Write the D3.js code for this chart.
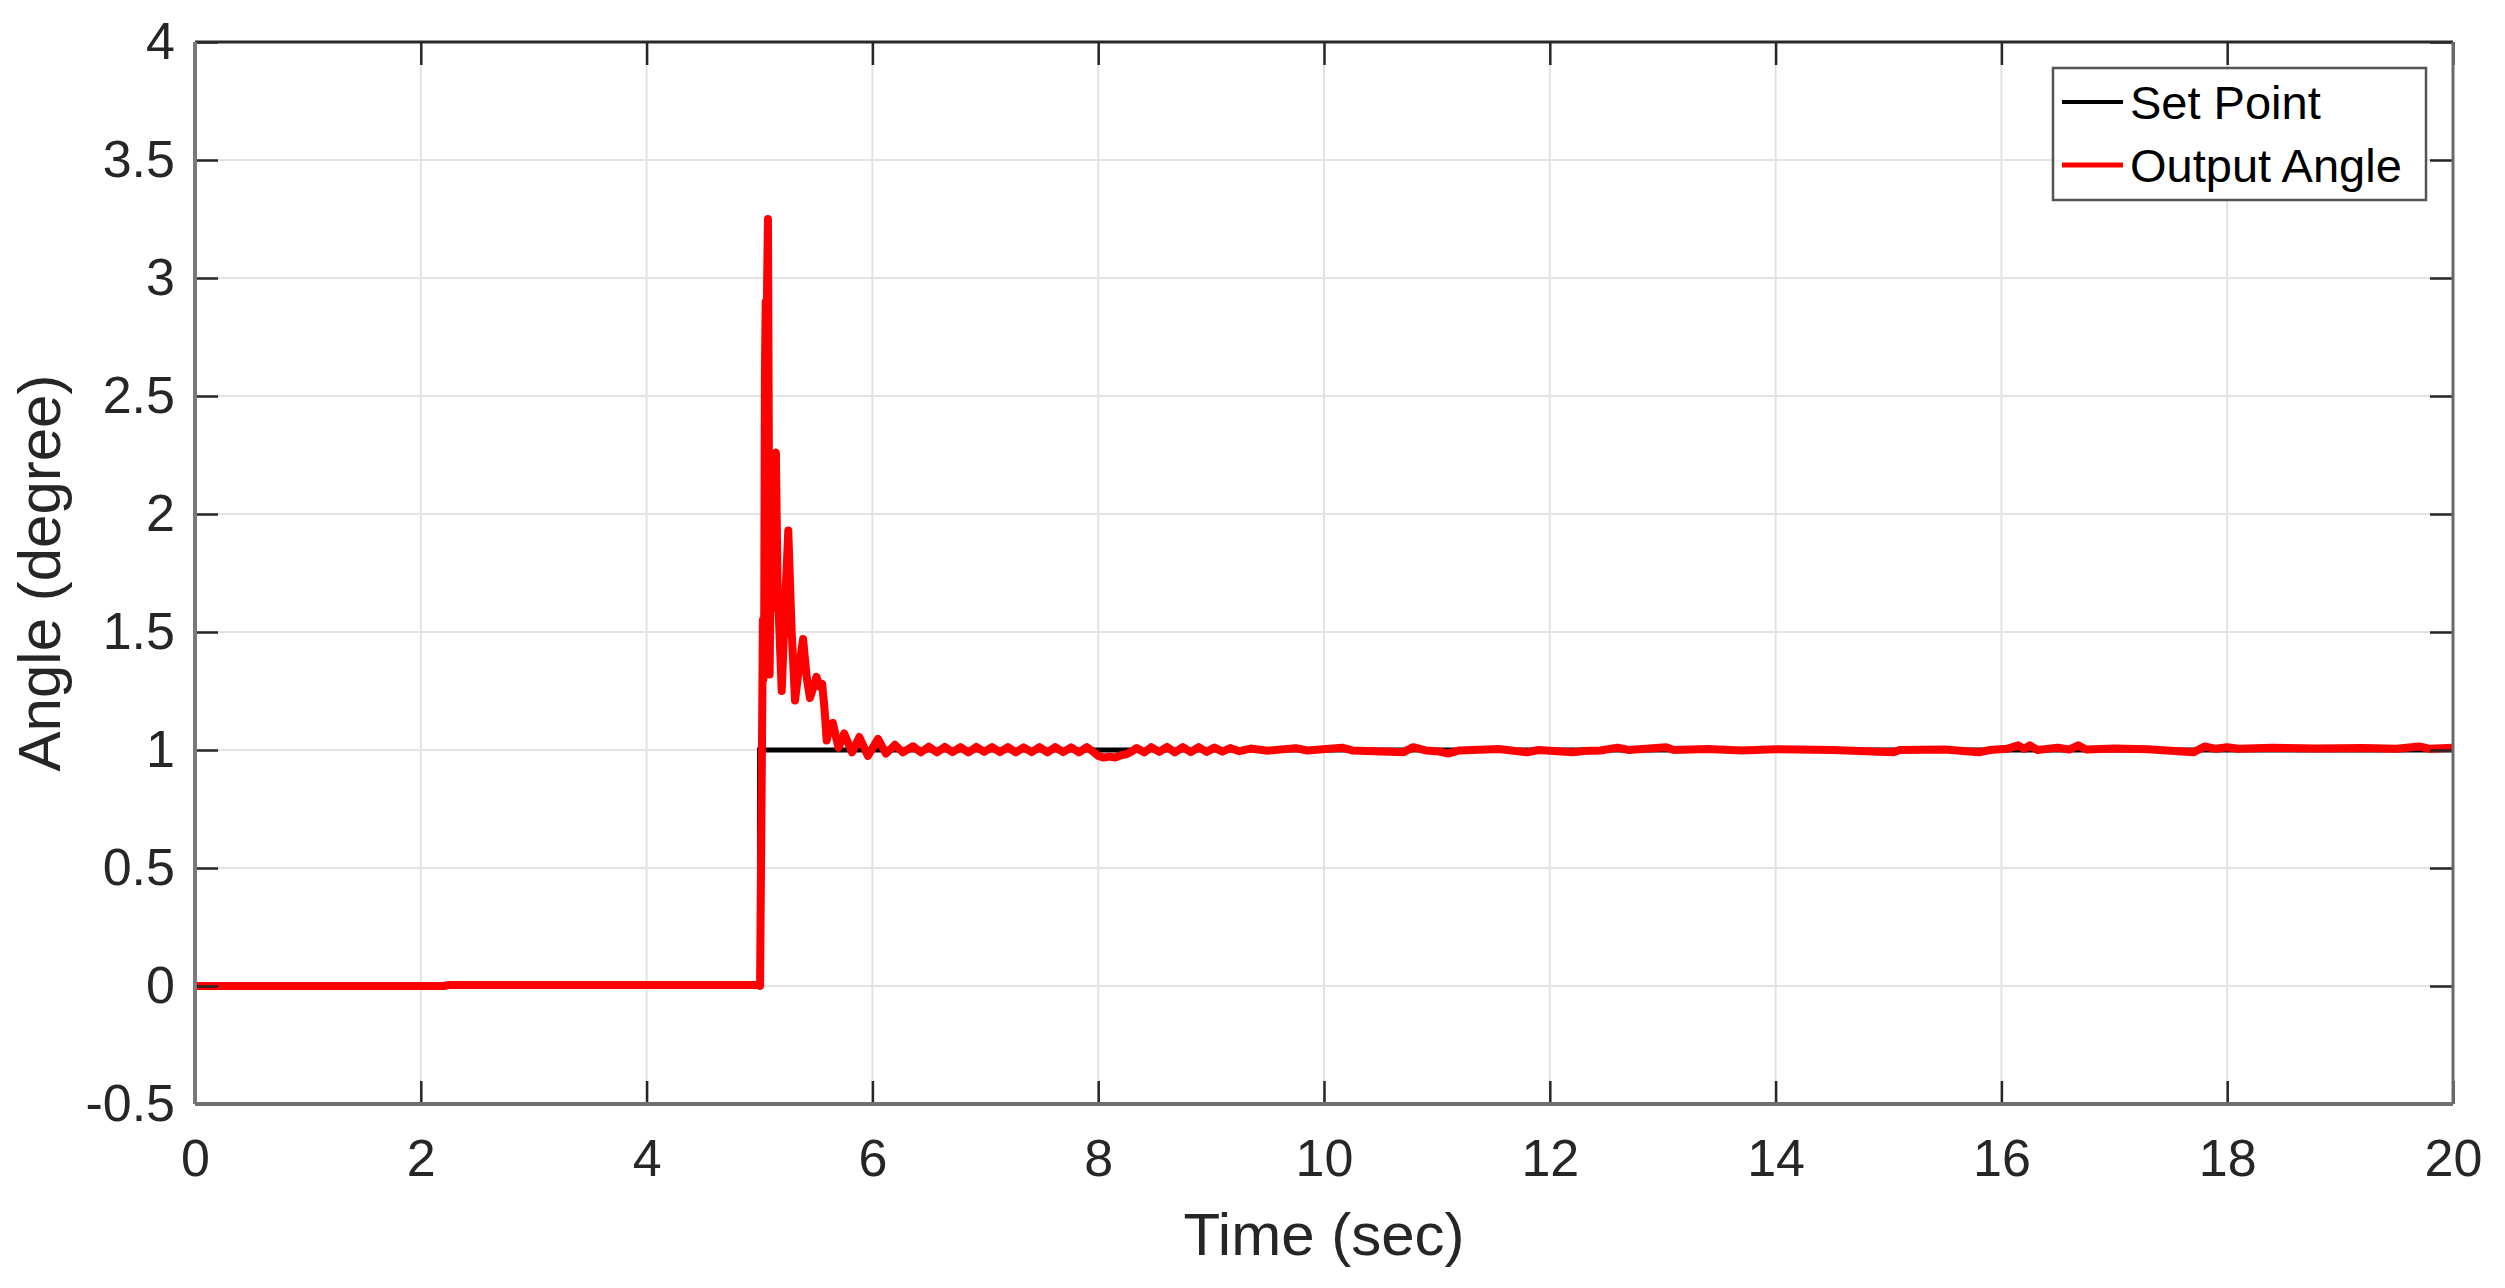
<!DOCTYPE html>
<html>
<head>
<meta charset="utf-8">
<script src="https://cdn.jsdelivr.net/npm/d3@7/dist/d3.min.js"></script>
<style>
  html, body { margin: 0; padding: 0; background: #fff; }
  svg { display: block; }
</style>
</head>
<body>
<svg id="chart" width="2505" height="1288"></svg>
<script>
// ---- data ----
const xTicks = [0, 2, 4, 6, 8, 10, 12, 14, 16, 18, 20];
const yTicks = [-0.5, 0, 0.5, 1, 1.5, 2, 2.5, 3, 3.5, 4];
const xLabel = "Time (sec)";
const yLabel = "Angle (degree)";
const seriesNames = ["Set Point", "Output Angle"];

// Set point: step at t = 5 s
const setPoint = [[0, 0], [5, 0], [5, 1], [20, 1]];

// Output angle
const outputAngle = [
  [0, 0], [2.2, 0], [2.25, 0.004], [4.98, 0.004],
  [5.005, 0.0], [5.02, 0.9], [5.03, 1.55], [5.035, 1.3], [5.042, 1.6], [5.048, 2.6], [5.055, 2.9], [5.06, 2.6],
  [5.068, 3.0], [5.075, 3.25], [5.082, 2.4], [5.09, 1.32], [5.1, 1.9], [5.11, 1.6],
  [5.125, 2.25], [5.145, 2.26], [5.16, 1.7], [5.197, 1.25], [5.225, 1.6], [5.255, 1.93],
  [5.285, 1.5], [5.315, 1.21], [5.35, 1.35], [5.386, 1.47], [5.42, 1.3], [5.447, 1.22],
  [5.48, 1.27], [5.505, 1.31], [5.53, 1.27], [5.555, 1.28], [5.575, 1.18], [5.595, 1.04],
  [5.625, 1.11], [5.65, 1.115], [5.675, 1.06], [5.70, 1.01], [5.75, 1.07], [5.82, 0.99],
  [5.885, 1.055], [5.96, 0.975], [6.05, 1.047], [6.12, 0.985], [6.2, 1.022], [6.27, 0.99],
  [6.36, 1.016], [6.43, 0.99], [6.50, 1.014], [6.57, 0.99], [6.64, 1.013], [6.71, 0.991],
  [6.78, 1.012], [6.85, 0.99], [6.92, 1.013], [6.99, 0.992], [7.06, 1.012], [7.13, 0.991],
  [7.20, 1.012], [7.27, 0.99], [7.34, 1.011], [7.41, 0.991], [7.48, 1.012], [7.55, 0.99],
  [7.62, 1.012], [7.69, 0.991], [7.76, 1.011], [7.83, 0.99], [7.90, 1.012], [7.95, 0.995],
  [8.0, 0.975], [8.05, 0.968], [8.1, 0.972], [8.15, 0.968], [8.2, 0.978], [8.25, 0.982],
  [8.3, 0.995], [8.34, 1.008], [8.41, 0.99], [8.47, 1.012], [8.54, 0.992], [8.61, 1.013],
  [8.68, 0.99], [8.75, 1.012], [8.82, 0.991], [8.89, 1.012], [8.96, 0.992], [9.03, 1.01],
  [9.1, 0.993], [9.17, 1.008], [9.25, 0.995], [9.35, 1.006], [9.5, 0.997], [9.75, 1.008],
  [9.85, 0.998], [10.16, 1.01], [10.25, 0.998], [10.7, 0.99], [10.79, 1.012], [10.9, 0.998],
  [11.0, 0.995], [11.1, 0.985], [11.2, 0.998], [11.55, 1.004], [11.8, 0.99], [11.9, 1.0],
  [12.2, 0.99], [12.3, 0.996], [12.45, 0.998], [12.6, 1.01], [12.7, 1.0], [13.03, 1.012],
  [13.1, 1.0], [13.4, 1.004], [13.7, 0.998], [14.0, 1.003], [14.5, 1.0], [15.04, 0.99],
  [15.1, 1.0], [15.5, 1.002], [15.8, 0.99], [15.9, 1.0], [16.05, 1.005], [16.15, 1.02],
  [16.2, 1.005], [16.25, 1.02], [16.32, 1.0], [16.5, 1.01], [16.6, 1.002], [16.68, 1.02],
  [16.75, 1.002], [17.0, 1.006], [17.3, 1.003], [17.7, 0.99], [17.8, 1.015], [17.9, 1.005],
  [18.0, 1.012], [18.1, 1.005], [18.4, 1.01], [18.8, 1.006], [19.2, 1.008], [19.5, 1.005],
  [19.7, 1.015], [19.8, 1.005], [20.0, 1.01]
];

// ---- drawing ----
const svg = d3.select("#chart");
const L = 195, R = 2453, T = 42, B = 1104;
const x = d3.scaleLinear().domain([0, 20]).range([L, R]);
const y = d3.scaleLinear().domain([-0.5, 4]).range([B, T]);
const font = "'Liberation Sans', Arial, Helvetica, sans-serif";

// grid
const grid = svg.append("g");
grid.selectAll("line.vx").data(xTicks.slice(1, -1)).enter().append("line")
  .attr("x1", d => x(d)).attr("x2", d => x(d)).attr("y1", T).attr("y2", B)
  .attr("stroke", "#e3e3e3").attr("stroke-width", 2);
grid.selectAll("line.hy").data(yTicks.slice(1, -1)).enter().append("line")
  .attr("x1", L).attr("x2", R).attr("y1", d => y(d)).attr("y2", d => y(d))
  .attr("stroke", "#e3e3e3").attr("stroke-width", 2);

// lines
const line = d3.line().x(d => x(d[0])).y(d => y(d[1]));
svg.append("path").datum(setPoint).attr("d", line)
  .attr("fill", "none").attr("stroke", "#000").attr("stroke-width", 5);
svg.append("path").datum(outputAngle).attr("d", line)
  .attr("fill", "none").attr("stroke", "#ff0000").attr("stroke-width", 8)
  .attr("stroke-linejoin", "round");

// axes
const tickLen = 23;
const gB = svg.append("g").attr("transform", `translate(0,${B})`)
  .call(d3.axisBottom(x).tickValues(xTicks).tickSizeInner(-tickLen).tickSizeOuter(0).tickPadding(35).tickFormat(d3.format("d")));
const gL = svg.append("g").attr("transform", `translate(${L},0)`)
  .call(d3.axisLeft(y).tickValues(yTicks).tickSizeInner(-tickLen).tickSizeOuter(0).tickPadding(20).tickFormat(d => String(d)));
const gT = svg.append("g").attr("transform", `translate(0,${T})`)
  .call(d3.axisTop(x).tickValues(xTicks).tickSizeInner(-tickLen).tickSizeOuter(0).tickFormat(""));
const gR = svg.append("g").attr("transform", `translate(${R},0)`)
  .call(d3.axisRight(y).tickValues(yTicks).tickSizeInner(-tickLen).tickSizeOuter(0).tickFormat(""));

[gB, gL, gT, gR].forEach(g => {
  g.select(".domain").remove();
  g.selectAll(".tick line").attr("stroke", "#262626").attr("stroke-width", 2.5);
  g.selectAll(".tick text").attr("fill", "#262626").style("font-family", font).style("font-size", "52px");
});

// box
svg.append("line").attr("x1", L).attr("x2", R).attr("y1", T).attr("y2", T).attr("stroke", "#2a2a2a").attr("stroke-width", 3);
svg.append("line").attr("x1", L).attr("x2", L).attr("y1", T).attr("y2", B).attr("stroke", "#7a7a7a").attr("stroke-width", 4);
svg.append("line").attr("x1", R).attr("x2", R).attr("y1", T).attr("y2", B).attr("stroke", "#6a6a6a").attr("stroke-width", 3);
svg.append("line").attr("x1", L).attr("x2", R).attr("y1", B).attr("y2", B).attr("stroke", "#707070").attr("stroke-width", 4);

// axis labels
svg.append("text").attr("x", (L + R) / 2).attr("y", 1255).attr("text-anchor", "middle")
  .attr("fill", "#262626").style("font-family", font).style("font-size", "60px").text(xLabel);
svg.append("text").attr("transform", `translate(60,${(T + B) / 2}) rotate(-90)`).attr("text-anchor", "middle")
  .attr("fill", "#262626").style("font-family", font).style("font-size", "60px").text(yLabel);

// legend
const lg = svg.append("g");
lg.append("rect").attr("x", 2053).attr("y", 68).attr("width", 373).attr("height", 132)
  .attr("fill", "#fff").attr("stroke", "#555").attr("stroke-width", 2.5);
const legColors = ["#000", "#ff0000"];
const legY = [102, 165];
seriesNames.forEach((name, i) => {
  lg.append("line").attr("x1", 2062).attr("x2", 2123).attr("y1", legY[i]).attr("y2", legY[i])
    .attr("stroke", legColors[i]).attr("stroke-width", i === 0 ? 4 : 5);
  lg.append("text").attr("x", 2130).attr("y", legY[i] + 17).attr("fill", "#000")
    .style("font-family", font).style("font-size", "47px").text(name);
});
</script>
</body>
</html>
